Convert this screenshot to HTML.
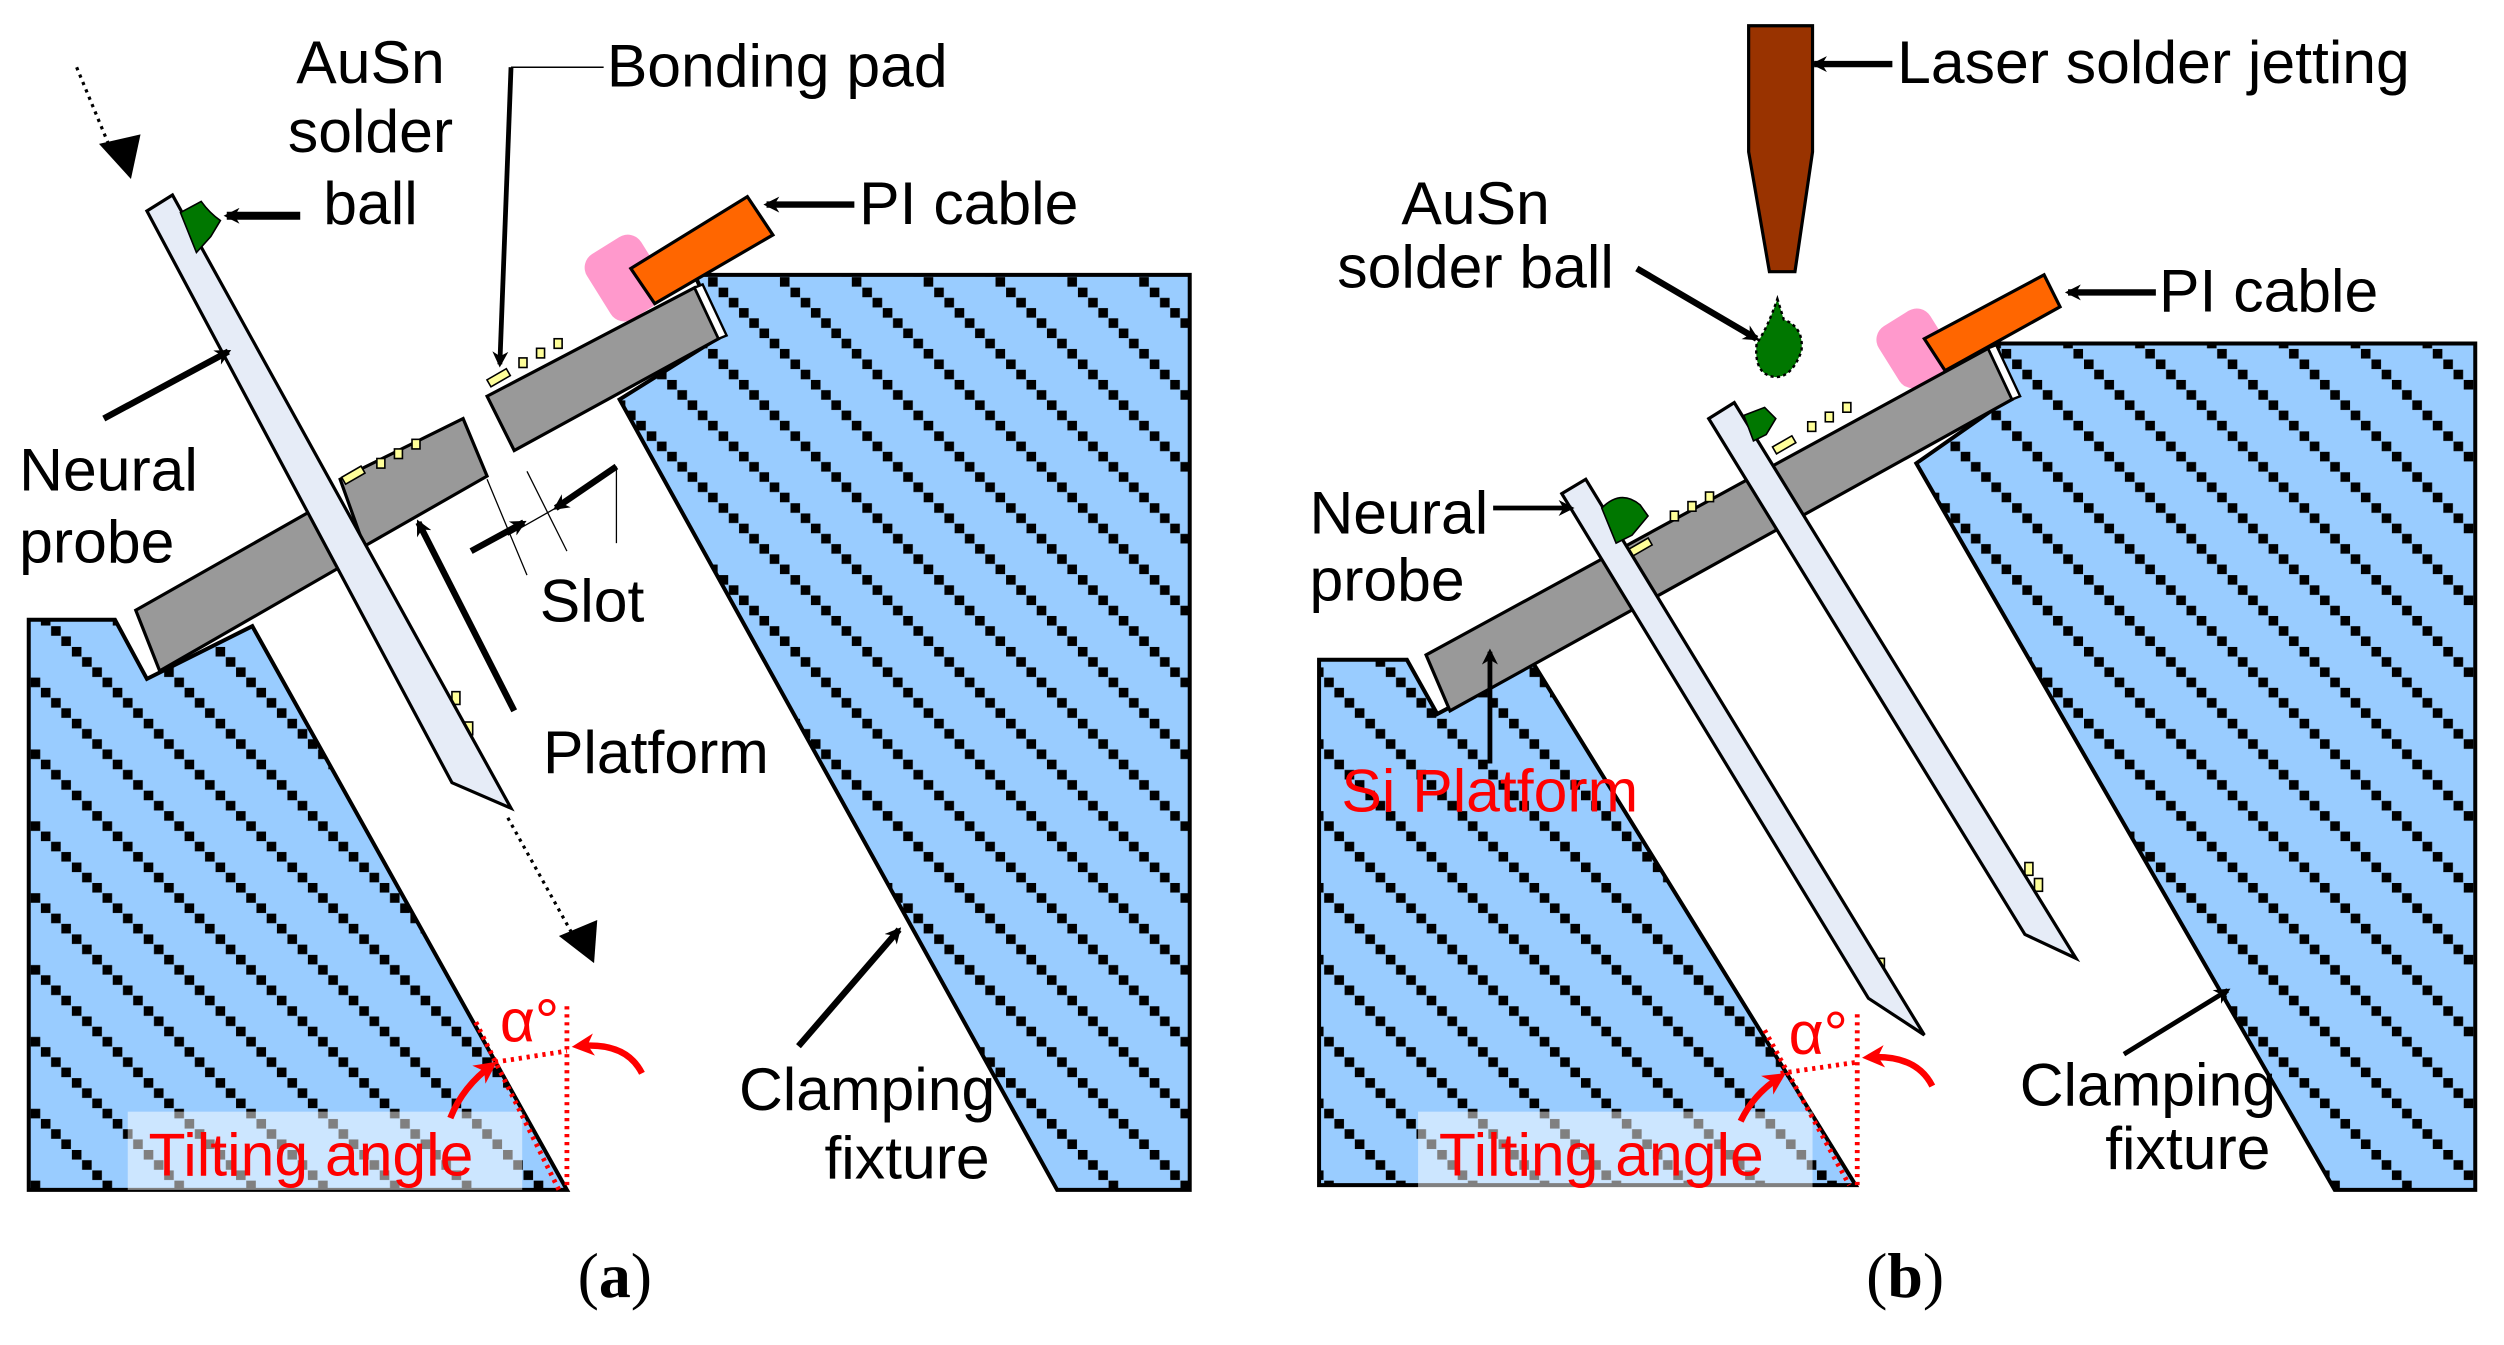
<!DOCTYPE html>
<html><head><meta charset="utf-8"><style>
html,body{margin:0;padding:0;background:#fff;}
svg{display:block;}
text{font-family:"Liberation Sans",sans-serif;font-size:38px;fill:#000;}
.r{fill:#f00;}
</style></head><body>
<svg width="2504" height="1345" viewBox="0 0 1568 842" xmlns="http://www.w3.org/2000/svg">
<defs>
<pattern id="h" patternUnits="userSpaceOnUse" width="45" height="45">
<rect width="45" height="45" fill="#99ccff"/>
<g fill="#000">
<rect x="0" y="0" width="6" height="6"/><rect x="6.4" y="6.4" width="6" height="6"/><rect x="12.8" y="12.8" width="6" height="6"/><rect x="19.2" y="19.2" width="6" height="6"/><rect x="25.6" y="25.6" width="6" height="6"/><rect x="32" y="32" width="6" height="6"/><rect x="38.4" y="38.4" width="6" height="6"/>
</g>
</pattern>
<marker id="ah" markerWidth="10" markerHeight="10" refX="8" refY="5" orient="auto" markerUnits="userSpaceOnUse" viewBox="0 0 10 10"><path d="M0,0 L10,5 L0,10 L3,5z" fill="#000"/></marker>
<marker id="ar" markerWidth="14" markerHeight="14" refX="10" refY="7" orient="auto" markerUnits="userSpaceOnUse" viewBox="0 0 14 14"><path d="M0,0 L14,7 L0,14 L4,7z" fill="#f00"/></marker>
</defs>

<!-- ===== Panel a ===== -->
<polygon points="18,388 72,388 92,425 158,392 355,745 18,745" fill="url(#h)" stroke="#000" stroke-width="2.5"/>
<polygon points="435,172 745,172 745,745 662,745 388,250 452,210" fill="url(#h)" stroke="#000" stroke-width="2.5"/>
<rect x="372" y="150" width="40" height="48" rx="10" fill="#ff99cc" transform="rotate(-32 392 174)"/>
<polygon points="395,168 468,123 484,147 410,190" fill="#ff6600" stroke="#000" stroke-width="2"/>
<polygon points="85,382 198,318 213,355 100,420" fill="#999" stroke="#000" stroke-width="2"/>
<polygon points="213,300 290,262 305,298 228,342" fill="#999" stroke="#000" stroke-width="2"/>
<polygon points="305,248 435,180 450,212 322,282" fill="#999" stroke="#000" stroke-width="2"/>
<polygon points="435,180 440,178 455,210 450,212" fill="#fff" stroke="#000" stroke-width="1.5"/>
<g fill="#ffff99" stroke="#000" stroke-width="1">
<rect x="305" y="234" width="14" height="5" transform="rotate(-30 312 236)"/>
<rect x="325" y="224" width="5" height="6"/><rect x="336" y="218" width="5" height="6"/><rect x="347" y="212" width="5" height="6"/>
<rect x="214" y="295" width="14" height="5" transform="rotate(-30 221 297)"/>
<rect x="236" y="287" width="5" height="6"/><rect x="247" y="281" width="5" height="6"/><rect x="258" y="275" width="5" height="6"/>
<rect x="283" y="433" width="5" height="8"/><rect x="291" y="452" width="5" height="8"/>
</g>
<polygon points="92,132 108,122 320,506 283,490" fill="#e6ecf7" stroke="#000" stroke-width="2"/>
<path d="M113,133 L126,126 Q131,133 138,138 L132,148 L123,158 Z" fill="#007700" stroke="#000" stroke-width="1"/>
<line x1="48" y1="42" x2="70" y2="95" stroke="#000" stroke-width="2" stroke-dasharray="2,3"/>
<polygon points="62,90 88,84 82,112" fill="#000"/>
<line x1="318" y1="512" x2="358" y2="584" stroke="#000" stroke-width="2" stroke-dasharray="2,3"/>
<polygon points="350,586 374,576 372,603" fill="#000"/>
<line x1="188" y1="135" x2="142" y2="135" stroke="#000" stroke-width="5" marker-end="url(#ah)"/>
<polyline points="378,42 320,42" fill="none" stroke="#000" stroke-width="1"/>
<line x1="320" y1="42" x2="313" y2="228" stroke="#000" stroke-width="3" marker-end="url(#ah)"/>
<line x1="535" y1="128" x2="480" y2="128" stroke="#000" stroke-width="4" marker-end="url(#ah)"/>
<line x1="65" y1="262" x2="143" y2="220" stroke="#000" stroke-width="4" marker-end="url(#ah)"/>
<line x1="322" y1="445" x2="262" y2="327" stroke="#000" stroke-width="4" marker-end="url(#ah)"/>
<line x1="295" y1="345" x2="328" y2="327" stroke="#000" stroke-width="4" marker-end="url(#ah)"/>
<line x1="386" y1="292" x2="348" y2="318" stroke="#000" stroke-width="4" marker-end="url(#ah)"/>
<g stroke="#000" stroke-width="0.8"><line x1="305" y1="300" x2="330" y2="360"/><line x1="330" y1="295" x2="355" y2="345"/><line x1="318" y1="335" x2="348" y2="318"/><line x1="386" y1="292" x2="386" y2="340"/></g>
<line x1="500" y1="655" x2="563" y2="582" stroke="#000" stroke-width="4" marker-end="url(#ah)"/>
<text x="232" y="52" text-anchor="middle">AuSn</text>
<text x="232" y="95" text-anchor="middle">solder</text>
<text x="232" y="140" text-anchor="middle">ball</text>
<text x="380" y="54">Bonding pad</text>
<text x="538" y="140">PI cable</text>
<text x="12" y="307">Neural</text>
<text x="12" y="352">probe</text>
<text x="338" y="389">Slot</text>
<text x="340" y="484">Platform</text>
<text x="543" y="695" text-anchor="middle">Clamping</text>
<text x="568" y="738" text-anchor="middle">fixture</text>
<rect x="80" y="696" width="247" height="49" fill="#fff" opacity="0.5"/>
<text x="93" y="736" class="r">Tilting angle</text>
<text x="313" y="652" class="r">α°</text>
<g stroke="#f00" stroke-width="3" stroke-dasharray="2,3" fill="none">
<line x1="298" y1="640" x2="350" y2="745"/><line x1="355" y1="630" x2="355" y2="745"/><line x1="310" y1="665" x2="355" y2="658"/>
</g>
<path d="M282,700 Q290,680 308,667" fill="none" stroke="#f00" stroke-width="4" marker-end="url(#ar)"/>
<path d="M402,672 Q392,652 362,655" fill="none" stroke="#f00" stroke-width="4" marker-end="url(#ar)"/>
<text x="385" y="812" text-anchor="middle" style="font-family:'Liberation Serif',serif;font-size:40px">(<tspan font-weight="bold">a</tspan>)</text>

<!-- ===== Panel b ===== -->
<polygon points="826,413 881,413 900,447 960,415 1162,742 826,742" fill="url(#h)" stroke="#000" stroke-width="2.5"/>
<polygon points="1250,215 1550,215 1550,745 1462,745 1200,290 1260,248" fill="url(#h)" stroke="#000" stroke-width="2.5"/>
<rect x="1180" y="196" width="38" height="44" rx="10" fill="#ff99cc" transform="rotate(-32 1199 218)"/>
<polygon points="1205,212 1280,172 1290,192 1218,232" fill="#ff6600" stroke="#000" stroke-width="2"/>
<polygon points="893,410 1245,218 1260,250 908,445" fill="#999" stroke="#000" stroke-width="2"/>
<polygon points="1245,218 1250,216 1265,248 1260,250" fill="#fff" stroke="#000" stroke-width="1.5"/>
<g fill="#ffff99" stroke="#000" stroke-width="1">
<rect x="1110" y="276" width="14" height="5" transform="rotate(-30 1117 278)"/>
<rect x="1132" y="264" width="5" height="6"/><rect x="1143" y="258" width="5" height="6"/><rect x="1154" y="252" width="5" height="6"/>
<rect x="1020" y="340" width="14" height="5" transform="rotate(-30 1027 342)"/>
<rect x="1046" y="320" width="5" height="6"/><rect x="1057" y="314" width="5" height="6"/><rect x="1068" y="308" width="5" height="6"/>
<rect x="1175" y="600" width="5" height="8"/><rect x="1268" y="540" width="5" height="8"/><rect x="1274" y="550" width="5" height="8"/>
</g>
<polygon points="978,309 993,300 1205,648 1170,625" fill="#e6ecf7" stroke="#000" stroke-width="2"/>
<polygon points="1070,262 1086,252 1300,600 1268,585" fill="#e6ecf7" stroke="#000" stroke-width="2"/>
<path d="M1003,318 Q1015,306 1027,316 L1032,323 L1022,335 L1012,340 Z" fill="#007700" stroke="#000" stroke-width="1"/>
<path d="M1092,260 L1105,255 L1112,262 L1106,272 L1098,276 Z" fill="#007700" stroke="#000" stroke-width="1"/>
<polygon points="1095,16 1135,16 1135,95 1124,170 1108,170 1095,95" fill="#993300" stroke="#000" stroke-width="2"/>
<path d="M1113,187 L1117,200 Q1130,205 1128,220 Q1122,236 1112,236 Q1098,235 1100,215 Q1107,205 1113,187Z" fill="#007700" stroke="#000" stroke-width="1.5" stroke-dasharray="2,2"/>
<line x1="1185" y1="40" x2="1136" y2="40" stroke="#000" stroke-width="4" marker-end="url(#ah)"/>
<line x1="1025" y1="168" x2="1100" y2="212" stroke="#000" stroke-width="4" marker-end="url(#ah)"/>
<line x1="1350" y1="183" x2="1295" y2="183" stroke="#000" stroke-width="4" marker-end="url(#ah)"/>
<line x1="935" y1="318" x2="984" y2="318" stroke="#000" stroke-width="3" marker-end="url(#ah)"/>
<line x1="933" y1="478" x2="933" y2="408" stroke="#000" stroke-width="3" marker-end="url(#ah)"/>
<line x1="1330" y1="660" x2="1395" y2="620" stroke="#000" stroke-width="3" marker-end="url(#ah)"/>
<text x="1188" y="52">Laser solder jetting</text>
<text x="924" y="140" text-anchor="middle">AuSn</text>
<text x="924" y="180" text-anchor="middle">solder ball</text>
<text x="1352" y="195">PI cable</text>
<text x="820" y="334">Neural</text>
<text x="820" y="376">probe</text>
<text x="840" y="508" class="r">Si Platform</text>
<text x="1345" y="692" text-anchor="middle">Clamping</text>
<text x="1370" y="732" text-anchor="middle">fixture</text>
<rect x="888" y="696" width="247" height="49" fill="#fff" opacity="0.5"/>
<text x="901" y="736" class="r">Tilting angle</text>
<text x="1120" y="660" class="r">α°</text>
<g stroke="#f00" stroke-width="3" stroke-dasharray="2,3" fill="none">
<line x1="1105" y1="645" x2="1158" y2="742"/><line x1="1163" y1="635" x2="1163" y2="742"/><line x1="1115" y1="672" x2="1163" y2="665"/>
</g>
<path d="M1090,702 Q1098,685 1115,674" fill="none" stroke="#f00" stroke-width="4" marker-end="url(#ar)"/>
<path d="M1210,680 Q1200,660 1170,662" fill="none" stroke="#f00" stroke-width="4" marker-end="url(#ar)"/>
<text x="1193" y="812" text-anchor="middle" style="font-family:'Liberation Serif',serif;font-size:40px">(<tspan font-weight="bold">b</tspan>)</text>
</svg>
</body></html>
